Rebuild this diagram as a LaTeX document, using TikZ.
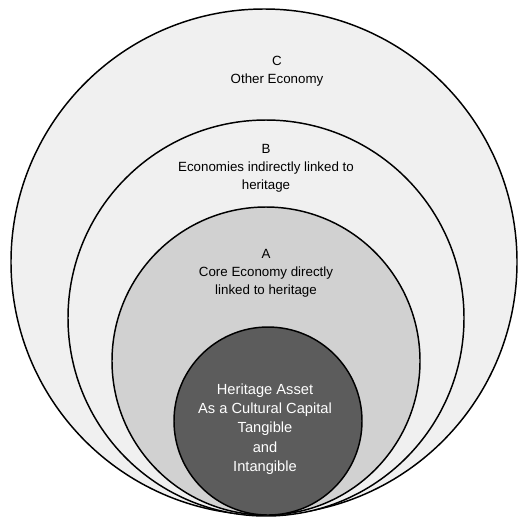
\documentclass[tikz,border=0pt]{standalone}
\usepackage{fontspec}
\setmainfont{Liberation Sans}
\definecolor{ringC}{gray}{0.94}
\definecolor{ringB}{gray}{0.94}
\definecolor{ringA}{gray}{0.82}
\definecolor{core}{gray}{0.36}
\tikzset{
  ring/.style={circle, draw=black, line width=1.1pt, inner sep=0pt},
  label/.style={align=center, font=\fontsize{10}{13.5}\selectfont},
  corelabel/.style={align=center, text=white, font=\fontsize{11}{14.5}\selectfont},
}
\begin{document}
\begin{tikzpicture}[x=0.75pt, y=-0.75pt]
  \useasboundingbox (0,0) rectangle (527,519);

  % nested circles, all touching at the bottom
  \node[ring, fill=ringC, minimum size=379.5pt] (other) at (264,262) {};
  \node[ring, fill=ringB, minimum size=297pt] (indirect) at (266,318) {};
  \node[ring, fill=ringA, minimum size=231pt] (direct) at (266,361) {};
  \node[ring, fill=core, minimum size=141pt] (asset) at (268,421) {};

  % texts
  \node[label] (otherlbl) at (277,71) {C\\Other Economy};
  \node[label] (indirectlbl) at (266,168) {B\\Economies indirectly linked to\\heritage};
  \node[label] (directlbl) at (266,273) {A\\Core Economy directly\\linked to heritage};
  \node[corelabel] (assetlbl) at (265,429)
    {Heritage Asset\\As a Cultural Capital\\Tangible\\and\\Intangible};
\end{tikzpicture}
\end{document}
